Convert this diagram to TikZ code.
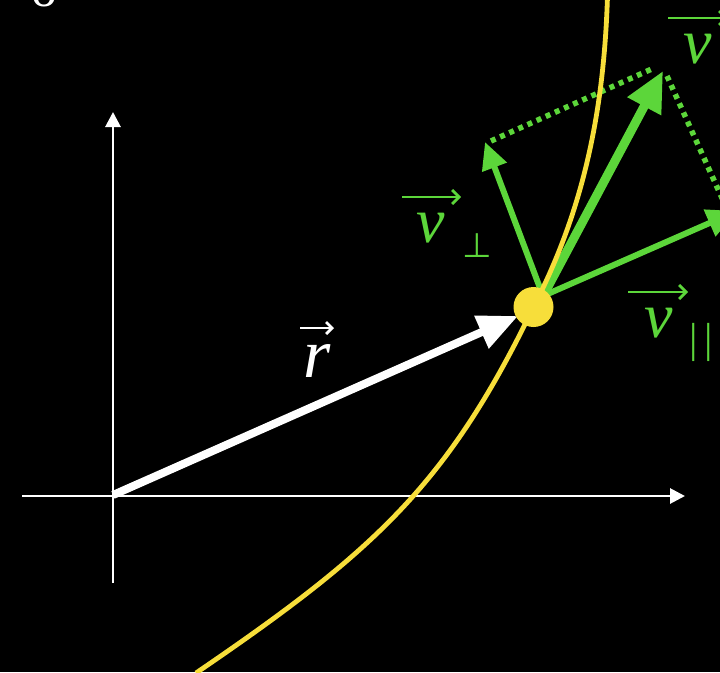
\documentclass[tikz,border=0pt]{standalone}
\usepackage{fontspec}
\setmainfont{Liberation Serif}
\newfontfamily\dvsym{DejaVu Sans}
\usetikzlibrary{arrows.meta}
\definecolor{vgreen}{RGB}{92,214,58}
\definecolor{cyel}{RGB}{247,222,58}
\begin{document}
\begin{tikzpicture}[x=1pt,y=-1pt,
  axis/.style={white, line width=2.8pt, -{Triangle[length=15pt,width=15pt]}},
  lbl/.style={inner sep=0pt, anchor=base, font=\fontsize{64}{64}\selectfont\itshape},
  sublbl/.style={inner sep=0pt, anchor=base, font=\fontsize{36}{36}\selectfont},
  overarrow/.style={line width=2.8pt, -{Straight Barb[length=7pt,width=14pt]}},
  rvec/.style={white, line width=8pt, -{Triangle[length=40pt,width=34pt]}},
  vmain/.style={vgreen, line width=9pt, -{Triangle[length=40pt,width=36pt]}},
  vcomp/.style={vgreen, line width=6pt, -{Triangle[length=27pt,width=25pt]}},
  dotline/.style={vgreen, line width=5.5pt, dash pattern=on 5pt off 5pt}
]
\useasboundingbox (0,0) rectangle (720,672);
\fill[black] (0,0) rectangle (720,672);
\clip (0,0) rectangle (720,672);

% partial glyph at top-left
\node[inner sep=0pt, anchor=base, text=white, font=\fontsize{52}{52}\selectfont] (topglyph) at (44,6) {o};

% axes
\coordinate (xs) at (22,496);
\coordinate (xe) at (685,496);
\coordinate (ys) at (113,583);
\coordinate (ye) at (113,112);
\draw[axis] (xs) -- (xe);
\draw[axis] (ys) -- (ye);

% position vector
\coordinate (orig) at (113,495);
\coordinate (rtip) at (518,316);
\draw[rvec] (orig) -- (rtip);
\node[lbl, text=white, font=\fontsize{70}{70}\selectfont\itshape] (rl) at (317,377) {r};
\coordinate (ra1) at (300,328);
\coordinate (ra2) at (334,328);
\draw[overarrow, white, -{Straight Barb[length=6pt,width=12pt]}] (ra1) -- (ra2);

% velocity vectors
\coordinate (P) at (543,296);
\coordinate (vtip) at (663,71);
\coordinate (vperptip) at (485,142);
\coordinate (vpartip) at (737,211);
\draw[dotline] (491,141) -- (654,68);
\draw[dotline] (667,76) -- (731,218);
\draw[vcomp] (P) -- (vperptip);
\draw[vcomp, -{Triangle[length=30pt,width=28pt]}] (P) -- (vpartip);
\draw[vmain] (P) -- (vtip);

% trajectory
\coordinate (cstart) at (196,673);
\coordinate (cmid) at (533.5,307);
\coordinate (cend) at (607.5,-4);
\draw[cyel, line width=4.8pt] (cstart) .. controls (375,551) and (448,484) .. (cmid)
  .. controls (584,209) and (604,110) .. (cend);
\node[circle, fill=cyel, minimum size=40pt, inner sep=0pt] (dot) at (cmid) {};

% labels
\node[lbl, text=vgreen] (vl) at (698,63) {v};
\coordinate (va1) at (668,18);
\coordinate (va2) at (728,18);
\draw[overarrow, vgreen] (va1) -- (va2);

\node[lbl, text=vgreen] (vperpl) at (430.5,242) {v};
\node[sublbl, text=vgreen, font=\fontsize{34}{34}\selectfont\dvsym] (perpsym) at (477,257) {⊥};
\coordinate (vpa1) at (402,197);
\coordinate (vpa2) at (461,197);
\draw[overarrow, vgreen] (vpa1) -- (vpa2);

\node[lbl, text=vgreen] (vparl) at (658.5,337) {v};
\node[sublbl, text=vgreen, font=\fontsize{42}{42}\selectfont] (parsym) at (701.5,352) {|\kern7pt|};
\coordinate (vqa1) at (628,292);
\coordinate (vqa2) at (688,292);
\draw[overarrow, vgreen] (vqa1) -- (vqa2);
\end{tikzpicture}
\end{document}
